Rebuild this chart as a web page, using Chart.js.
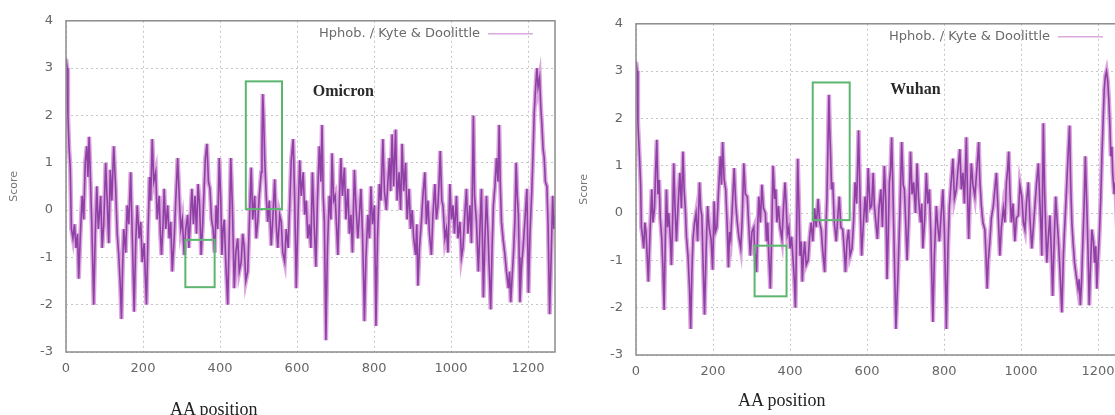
<!DOCTYPE html>
<html lang="en">
<head>
<meta charset="UTF-8">
<title>Hydrophobicity - Omicron vs Wuhan</title>
<script src="https://cdn.jsdelivr.net/npm/chart.js"></script>
<style>
  body { margin: 0; width: 1115px; height: 415px; overflow: hidden; background: #fff; position: relative; }
  .panel { position: absolute; width: 560px; height: 415px; }
  .xt { position: absolute; font-family: "Liberation Serif", serif; font-size: 18px; color: #222; white-space: nowrap; }
</style>
</head>
<body>
<div class="panel" style="left:0;top:0"><canvas id="omicron" width="560" height="415"></canvas></div>
<div class="panel" style="left:570px;top:3px"><canvas id="wuhan" width="560" height="415"></canvas></div>
<div class="xt" style="left:170px;top:399px">AA position</div>
<div class="xt" style="left:738px;top:390px">AA position</div>
<script>
// tick labels
const xTicks = [0, 200, 400, 600, 800, 1000, 1200];
const yTicks = [-3, -2, -1, 0, 1, 2, 3, 4];

// Omicron profile (residue position, Kyte & Doolittle score)
const omicronPos = [0,3,5,8,11,14,18,22,26,30,33,37,42,46,50,54,57,60,63,67,72,76,80,84,90,94,98,103,107,111,115,119,124,129,133,137,141,144,147,150,155,159,163,168,172,177,181,185,190,194,198,203,206,209,213,217,220,224,228,233,237,242,245,248,252,255,259,264,268,272,276,281,285,290,294,298,302,307,311,316,319,323,327,331,335,339,343,347,351,355,359,362,366,370,374,378,382,386,390,394,398,402,405,408,411,415,420,424,428,432,437,441,446,450,455,459,463,467,472,476,481,485,490,494,498,502,507,509,511,513,516,520,524,528,533,537,542,546,550,555,559,563,568,572,577,581,585,590,594,598,602,607,611,616,620,624,628,632,636,640,645,649,653,658,662,665,668,671,673,675,679,684,688,691,695,699,703,706,710,714,718,723,727,732,736,740,744,749,753,758,762,766,770,773,775,779,784,788,792,796,801,803,805,809,814,818,823,827,832,836,840,843,847,851,856,860,865,869,873,877,882,886,891,895,899,903,908,911,914,918,923,927,932,936,940,944,949,953,958,962,966,969,972,976,979,984,988,992,997,1001,1005,1009,1014,1018,1023,1027,1031,1035,1040,1044,1049,1053,1056,1058,1061,1066,1069,1071,1075,1079,1082,1084,1088,1092,1096,1099,1103,1107,1110,1114,1118,1122,1125,1128,1131,1135,1140,1144,1149,1152,1155,1158,1162,1166,1169,1172,1175,1177,1179,1183,1188,1192,1197,1199,1201,1205,1210,1213,1216,1219,1223,1226,1230,1233,1236,1239,1242,1245,1249,1252,1256,1260,1264,1267,1270];
const omicronScore = [3.2,3.0,2.0,1.3,0.9,-0.4,-0.6,-0.3,-0.8,-0.5,-1.45,-0.6,0.3,-0.2,1.0,1.35,0.7,1.55,0.8,-0.3,-2.0,-0.5,0.5,-0.4,0.3,-0.8,-0.3,1.0,0.2,-0.7,0.85,0.2,1.35,0.45,-0.5,-0.95,-1.6,-2.3,-1.2,-0.4,-0.9,0.1,-0.3,0.8,-0.5,-2.15,-0.7,0.1,-0.6,-0.25,-1.1,-0.7,-1.4,-2.0,-0.5,0.7,0.2,1.5,0.6,0.8,-0.2,0.3,-0.5,-0.95,-0.3,0.45,-0.4,0.1,-0.6,-0.25,-1.3,-0.6,0.2,1.1,0.3,-0.4,-0.2,-0.95,-0.4,-0.1,-0.8,-0.2,0.45,-0.3,0.3,-0.5,0.55,0.1,-0.95,-0.3,0.5,1.1,1.4,0.6,0.45,-0.2,-0.4,-0.9,0.1,-0.4,1.1,0.2,-0.95,-0.4,-0.2,-1.1,-2.0,-0.5,1.1,0.1,-1.65,-0.9,-0.6,-1.3,-1.1,-0.5,-0.8,-1.5,-1.3,-0.3,0.9,-0.2,0.3,-0.6,-0.25,0.3,0.8,1.3,2.45,2.05,1.1,0.3,-0.25,0.2,-0.75,-0.2,0.65,-0.3,-0.8,-0.1,-0.25,-0.9,-1.1,-0.4,-0.8,0.1,1.05,1.5,0.2,-1.65,-0.3,1.05,0.3,0.8,-0.1,0.2,-0.6,-0.3,-0.8,0.8,-0.4,-1.2,0.2,1.35,0.6,1.8,0.3,-0.25,-1.5,-2.75,-0.8,0.3,-0.2,1.2,0.2,0.3,-0.4,-0.95,0.2,1.1,0.3,0.9,-0.2,0.45,-0.5,-0.1,-0.9,0.85,0.1,-0.6,-0.1,0.45,-0.5,-1.5,-2.35,-1.0,-0.1,-0.6,0.5,-0.3,0.1,-1.2,-2.45,-0.6,0.55,0.2,1.5,0.4,0.0,0.6,1.1,0.4,1.6,0.5,1.7,0.2,0.8,0.0,1.4,0.4,1.0,-0.2,0.45,-0.4,0.0,-0.6,-0.95,-0.3,-1.6,-0.8,-0.25,0.3,0.8,-0.3,0.2,-0.5,-0.95,-0.1,0.55,-0.2,0.1,0.6,1.25,0.2,0.1,-0.6,-0.4,-0.9,0.55,-0.2,0.1,-0.5,0.3,-0.6,-0.25,-1.0,-0.8,-0.2,0.45,-0.5,0.1,-0.7,0.8,2.0,0.3,-0.25,-0.9,-1.3,-0.4,0.45,-0.8,-1.85,-0.6,0.3,-0.5,-1.2,-2.1,-0.7,0.1,0.5,1.1,0.6,1.8,0.5,-0.25,-0.6,-0.95,-1.3,-1.65,-1.3,-1.95,-1.5,-0.95,-0.2,1.0,0.3,-0.1,-1.0,-1.95,-1.2,-0.7,-0.2,0.45,-0.6,-1.75,-0.5,0.45,1.2,2.05,2.5,3.0,2.6,2.8,2.2,1.8,1.3,1.1,0.6,0.5,-0.3,-2.2,-1.0,0.3,-0.4,-0.1];

// Wuhan profile
const wuhanPos = [0,3,5,9,12,14,17,20,23,26,29,32,36,41,44,48,51,54,57,60,63,67,70,73,76,79,82,85,89,92,95,98,101,105,109,114,118,122,125,128,131,135,139,142,145,148,152,156,160,165,168,171,174,178,182,186,190,195,199,203,206,210,214,219,222,225,229,233,237,240,243,246,250,255,259,263,267,272,276,280,284,289,293,297,301,306,308,310,313,316,319,323,327,331,336,339,342,345,349,352,356,360,363,366,370,374,379,383,387,390,393,397,400,404,408,411,414,417,420,423,426,429,432,435,438,442,447,451,455,459,464,468,473,477,481,485,490,493,496,498,501,503,505,508,511,515,520,524,528,532,537,541,544,548,552,556,561,565,569,573,578,582,586,590,595,599,603,608,612,616,619,623,627,631,636,640,645,649,652,655,658,661,664,667,669,672,675,678,681,686,690,694,697,701,704,708,713,717,721,726,730,734,739,742,745,750,754,758,762,766,769,771,775,780,784,788,792,797,801,804,806,810,814,818,823,827,832,836,841,845,849,853,858,861,864,867,871,875,880,885,890,893,897,901,906,909,912,915,919,923,928,932,936,940,945,949,954,958,962,965,968,971,975,979,984,988,993,997,1002,1006,1010,1014,1019,1023,1028,1032,1036,1040,1045,1049,1052,1054,1056,1058,1061,1064,1067,1071,1075,1079,1082,1086,1090,1094,1097,1101,1106,1110,1113,1117,1122,1126,1129,1132,1135,1139,1143,1148,1151,1154,1157,1160,1164,1167,1171,1174,1177,1181,1184,1188,1191,1194,1197,1200,1203,1207,1210,1213,1216,1219,1222,1225,1228,1231,1233,1236,1238,1242,1245,1249,1253,1257,1261,1265,1270];
const wuhanScore = [3.2,3.0,1.9,1.2,0.6,-0.3,-0.5,-0.75,-0.2,-0.4,-0.9,-1.45,-0.5,0.5,-0.2,0.1,0.9,1.55,0.4,0.7,-0.1,-0.55,-1.2,-2.05,-0.6,0.5,-0.3,0.0,-0.5,-1.1,-0.2,1.05,0.2,-0.6,0.1,0.85,0.1,1.3,0.5,0.1,-0.5,-0.9,-1.6,-2.45,-1.3,-0.55,-0.2,0.0,-0.6,0.65,0.1,-0.05,-1.0,-2.15,-0.8,0.15,-0.3,-0.55,-1.2,0.25,-0.4,-0.3,0.4,1.2,0.6,1.5,0.7,0.5,-0.3,-1.15,-0.4,-0.55,0.1,0.95,0.2,-0.2,-0.5,-0.75,-0.1,1.05,0.4,0.35,-0.3,-0.9,-0.4,-0.3,-0.8,-0.9,-1.25,-0.3,0.35,-0.2,0.6,0.1,0.0,-0.6,-0.2,-0.9,-1.6,-0.6,1.0,0.3,0.5,-0.2,0.15,-0.3,-0.55,0.1,0.65,0.2,-0.45,-0.3,-0.75,-0.5,-1.0,-1.4,-2.0,-0.5,1.15,0.2,-0.9,-0.6,-1.45,-0.9,-0.6,-1.1,-1.0,-0.5,-0.2,-0.6,0.1,-0.3,0.3,-0.2,-0.35,-0.8,-1.25,-0.4,0.35,1.2,2.5,1.8,1.35,0.5,0.65,-0.2,-0.6,-0.1,0.35,-0.3,-0.35,-0.8,-1.25,-0.6,-0.35,-0.9,-0.75,-0.2,0.65,0.2,1.75,0.3,-0.9,-0.3,0.35,-0.2,0.95,0.1,0.15,0.85,0.15,-0.2,-0.55,0.1,0.5,-0.3,1.0,0.2,-1.4,-0.5,0.65,0.9,1.6,0.6,-0.2,-1.3,-2.45,-1.8,-1.15,0.2,1.5,0.6,0.5,-0.3,-1.0,-0.2,1.3,0.4,0.65,0.0,1.05,0.3,-0.2,0.2,-0.75,-0.1,0.85,0.2,0.5,-0.5,-1.6,-2.3,-0.9,0.15,-0.3,-0.6,-0.1,0.5,-0.4,-1.6,-2.45,-0.8,0.15,0.6,1.15,0.3,0.5,0.9,1.35,0.5,0.85,0.2,1.6,0.4,-0.55,0.3,1.05,0.6,0.35,0.9,1.5,0.7,0.15,-0.2,-0.35,-0.9,-1.6,-1.0,-0.6,-0.1,0.15,0.5,0.85,0.1,-0.9,-0.3,0.1,-0.2,0.65,0.9,1.3,0.5,-0.2,0.2,-0.6,-0.1,-0.05,0.6,0.35,-0.2,-0.35,0.2,0.65,-0.1,-0.75,-0.3,0.15,0.6,1.05,0.2,-0.4,-0.9,0.6,1.9,0.5,-0.3,-1.05,-0.5,-0.05,-0.9,-1.75,-0.6,0.35,-0.2,-0.55,-1.2,-2.1,-0.9,-0.35,0.3,1.2,1.85,0.6,-0.2,-0.6,-1.05,-1.3,-1.6,-1.4,-1.95,-1.5,-0.75,0.2,1.2,0.1,-0.8,-1.95,-1.0,-0.35,-0.6,-1.05,-0.7,-1.6,-1.0,-0.55,0.3,1.2,1.9,2.6,2.9,3.0,2.8,2.4,1.8,1.2,1.4,0.85,0.4,0.65,-0.2,-0.9,-1.6,-1.1,-0.4,0.1];

// highlighted regions: [xFrom, xTo, yTop, yBottom]
const omicronBoxes = [[467, 561, 2.72, 0.02], [310, 386, -0.63, -1.63]];
const wuhanBoxes = [[459, 555, 2.76, -0.15], [308, 391, -0.69, -1.76]];

const legendText = 'Hphob. / Kyte & Doolittle';

function overlay(name, nameAt, boxes) {
  return {
    id: 'overlay',
    afterDatasetsDraw(chart) {
      const { ctx, chartArea: a, scales: { x, y } } = chart;
      ctx.save();
      // frame
      ctx.strokeStyle = '#8c8c8c';
      ctx.lineWidth = 1.5;
      ctx.strokeRect(a.left, a.top, a.right - a.left, a.bottom - a.top);
      // green boxes
      ctx.strokeStyle = '#5db66f';
      ctx.lineWidth = 2;
      boxes.forEach(b => {
        const x0 = x.getPixelForValue(b[0]), x1 = x.getPixelForValue(b[1]);
        const y0 = y.getPixelForValue(b[2]), y1 = y.getPixelForValue(b[3]);
        ctx.strokeRect(x0, y0, x1 - x0, y1 - y0);
      });
      // legend
      ctx.font = '13px "DejaVu Sans"';
      ctx.fillStyle = '#6a6a6a';
      ctx.textAlign = 'right';
      ctx.textBaseline = 'middle';
      ctx.fillText(legendText, a.right - 75, a.top + 13);
      ctx.strokeStyle = '#dcaade';
      ctx.lineWidth = 1.5;
      ctx.beginPath();
      ctx.moveTo(a.right - 67, a.top + 13);
      ctx.lineTo(a.right - 22, a.top + 13);
      ctx.stroke();
      // panel name
      ctx.font = 'bold 16px "Liberation Serif"';
      ctx.fillStyle = '#2a2a2a';
      ctx.textAlign = 'left';
      ctx.fillText(name, x.getPixelForValue(nameAt[0]), y.getPixelForValue(nameAt[1]));
      ctx.restore();
    }
  };
}

function makeChart(id, pos, score, name, nameAt, boxes) {
  const pts = pos.map((p, i) => ({ x: p, y: score[i] }));
  new Chart(document.getElementById(id), {
    type: 'line',
    data: {
      datasets: [
        { data: pts, borderColor: 'rgba(128,46,155,0.85)', borderWidth: 1.6, pointRadius: 0, tension: 0 },
        { data: pts, borderColor: '#dca6de', borderWidth: 4.5, pointRadius: 0, tension: 0 }
      ]
    },
    options: {
      responsive: false,
      animation: false,
      layout: { padding: { top: 17, right: 5, left: 0, bottom: 0 } },
      plugins: { legend: { display: false }, tooltip: { enabled: false } },
      scales: {
        x: {
          type: 'linear', min: 0, max: 1270,
          afterBuildTicks: s => { s.ticks = xTicks.map(v => ({ value: v })); },
          afterFit: s => { s.height = 63; },
          grid: { color: '#c6c6c6', drawTicks: false },
          border: { display: false, dash: [2, 3] },
          ticks: { color: '#666', font: { family: 'DejaVu Sans', size: 13 }, padding: 9, callback: v => String(v) }
        },
        y: {
          min: -3, max: 4,
          afterBuildTicks: s => { s.ticks = yTicks.map(v => ({ value: v })); },
          afterFit: s => { s.width = 66; },
          grid: { color: '#c6c6c6', drawTicks: false },
          border: { display: false, dash: [2, 3] },
          ticks: { color: '#666', font: { family: 'DejaVu Sans', size: 13 }, padding: 13, callback: v => String(v) },
          title: { display: true, text: 'Score', color: '#777', font: { family: 'DejaVu Sans', size: 11 }, padding: { top: 8, bottom: 0 } }
        }
      }
    },
    plugins: [overlay(name, nameAt, boxes)]
  });
}

makeChart('omicron', omicronPos, omicronScore, 'Omicron', [641, 2.5], omicronBoxes);
makeChart('wuhan', wuhanPos, wuhanScore, 'Wuhan', [660, 2.6], wuhanBoxes);
</script>
</body>
</html>
